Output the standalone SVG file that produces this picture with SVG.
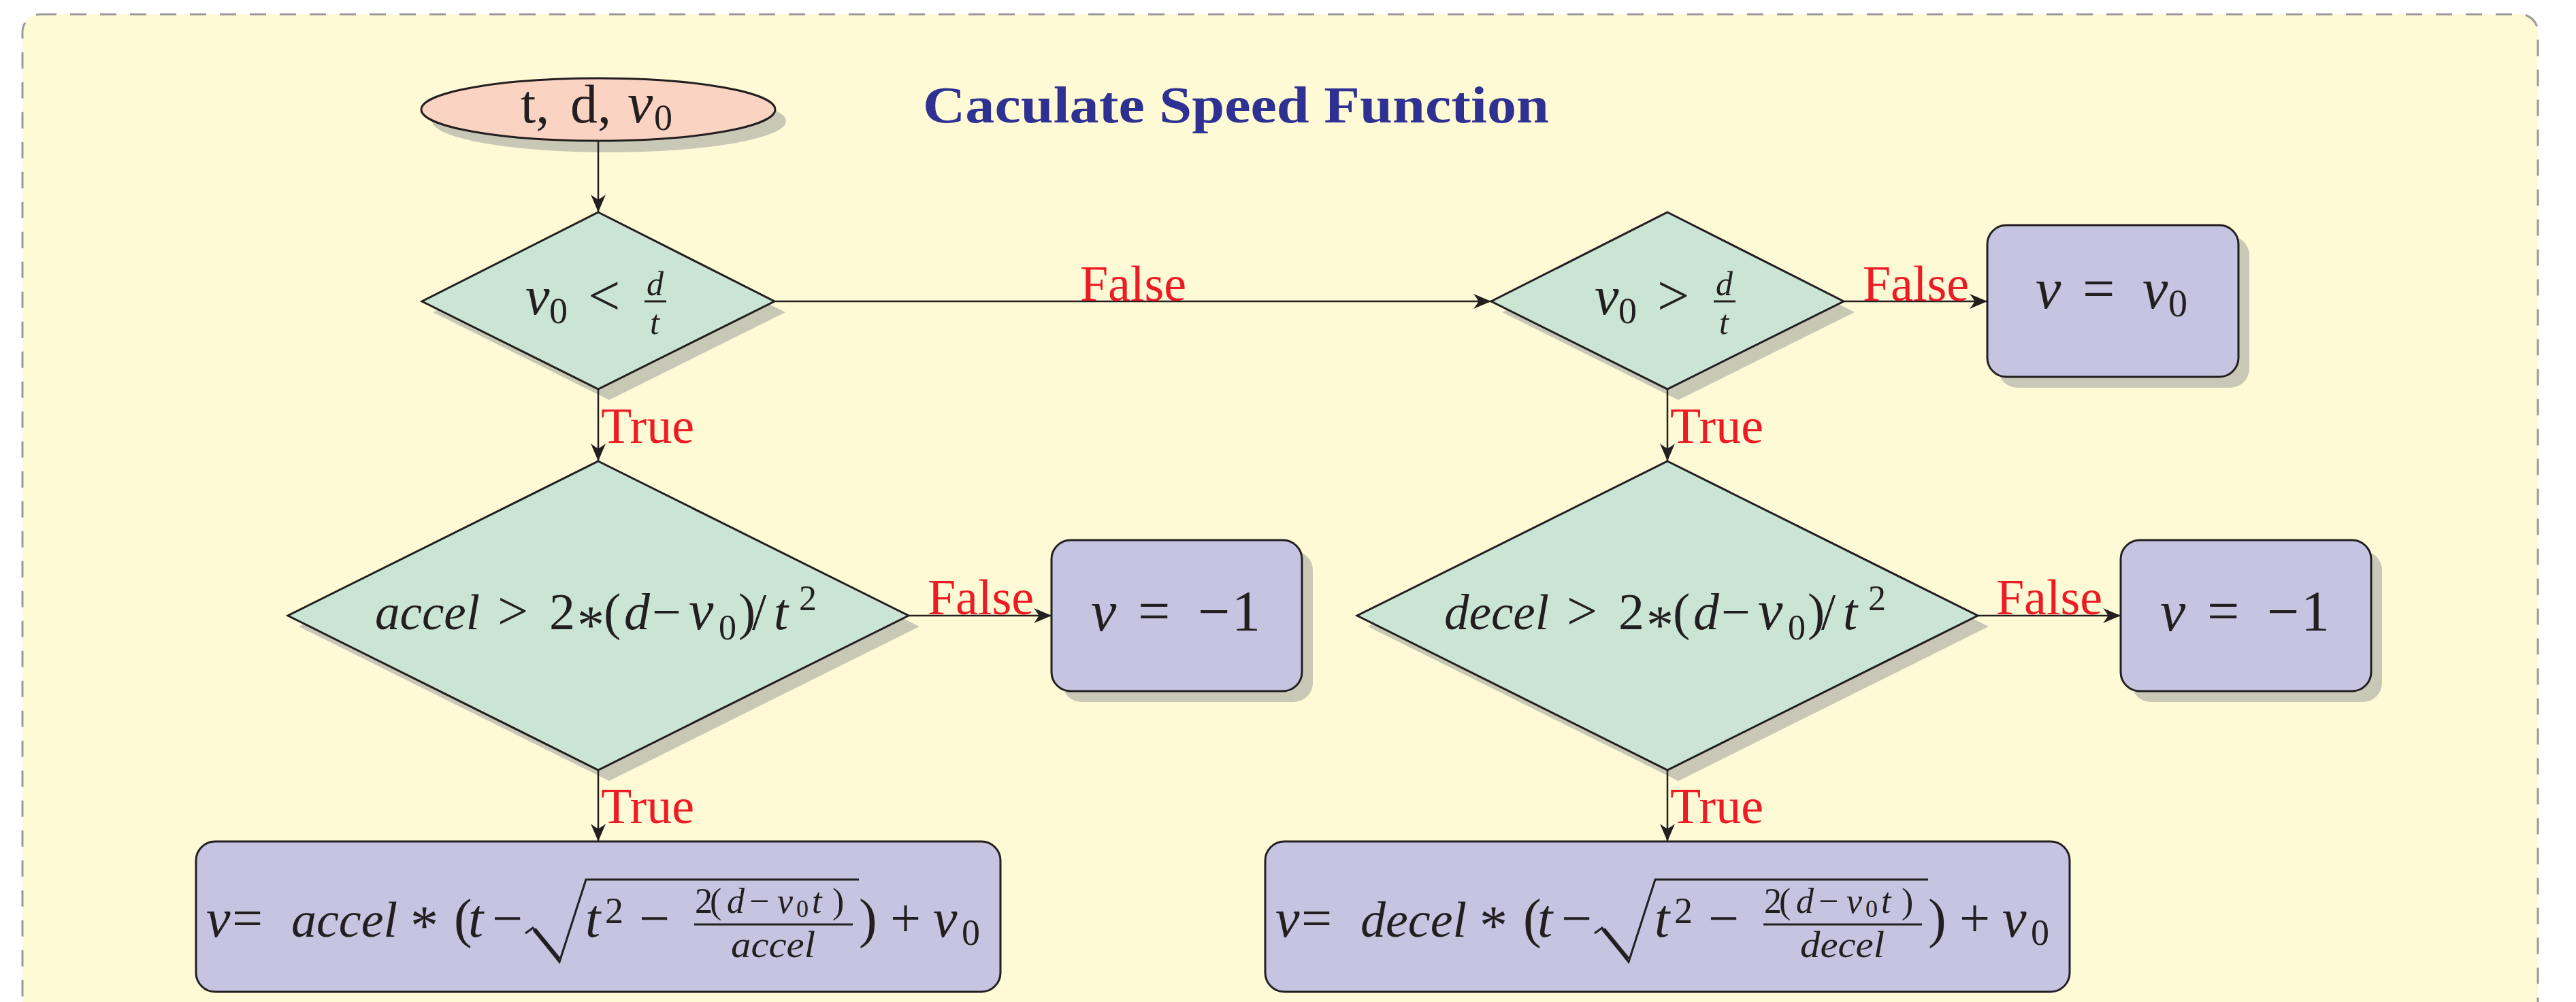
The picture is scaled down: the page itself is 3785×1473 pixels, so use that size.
<svg xmlns="http://www.w3.org/2000/svg" width="3785" height="1473" viewBox="0 0 3785 1473">
<defs>
<style>
.m{font-family:"Liberation Serif","Times New Roman",serif;fill:#231F20}
.i{font-style:italic}
.lbl{font-family:"Liberation Serif","Times New Roman",serif;font-size:74px;fill:#ED1C24}
.ln{stroke:#231F20;stroke-width:2.5;fill:none}
.nd{stroke:#231F20;stroke-width:3}
.sh{fill:#C9C8B7}
.dia{fill:#CBE5D5}
.box{fill:#C6C4E1}
.bar{stroke:#231F20;stroke-width:3}
</style>
<marker id="arr" viewBox="-28 -12 30 24" refX="0" refY="0" markerWidth="30" markerHeight="24" markerUnits="userSpaceOnUse" orient="auto">
<path d="M0,0 L-26,-11 Q-19,-2 -19,0 Q-19,2 -26,11 Z" fill="#231F20"/>
</marker>
</defs>
<rect x="0" y="0" width="3785" height="1473" fill="#FFFFFF"/>
<rect x="33" y="21" width="3696" height="1500" rx="26" fill="#FFFAD6" stroke="#9A9A9A" stroke-width="3" stroke-dasharray="24 20"/>

<g id="title">
<text x="1356" y="180" font-family="Liberation Serif, serif" font-weight="bold" font-size="76" fill="#2E3192" textLength="920" lengthAdjust="spacingAndGlyphs">Caculate Speed Function</text>
</g>

<g id="start">
<ellipse class="sh" cx="895" cy="178" rx="260" ry="46"/>
<ellipse class="nd" fill="#FBD3C3" cx="879" cy="161" rx="260" ry="46"/>
<text class="m" font-size="80" y="180"><tspan x="765">t,</tspan><tspan x="838">d,</tspan><tspan x="922" class="i" font-size="84">v</tspan><tspan x="961" y="191" font-size="54">0</tspan></text>
</g>

<g id="cond1">
<polygon class="sh" points="895,328 1154,459 895,588 636,459"/>
<polygon class="nd dia" points="879,312 1138,443 879,572 620,443"/>
<text class="m" font-size="80" y="462"><tspan x="772" class="i">v</tspan><tspan x="807" y="475" font-size="54">0</tspan><tspan x="864" y="463" font-size="84">&lt;</tspan></text>
<text class="m i" font-size="50"><tspan x="950" y="434">d</tspan><tspan x="955" y="491">t</tspan></text>
<line class="bar" x1="947" y1="443" x2="979" y2="443" stroke-width="2.5"/>
</g>

<g id="cond2">
<polygon class="sh" points="2466,328 2725,459 2466,588 2207,459"/>
<polygon class="nd dia" points="2450,312 2709,443 2450,572 2191,443"/>
<text class="m" font-size="80" y="462"><tspan x="2343" class="i">v</tspan><tspan x="2378" y="475" font-size="54">0</tspan><tspan x="2435" y="463" font-size="84">&gt;</tspan></text>
<text class="m i" font-size="50"><tspan x="2521" y="434">d</tspan><tspan x="2526" y="491">t</tspan></text>
<line class="bar" x1="2518" y1="443" x2="2550" y2="443" stroke-width="2.5"/>
</g>

<g id="res-v0">
<rect class="sh" x="2936" y="347" width="369" height="223" rx="28"/>
<rect class="nd box" x="2920" y="331" width="369" height="223" rx="28"/>
<text class="m" font-size="84" y="453"><tspan x="2991" class="i">v</tspan><tspan x="3060">=</tspan><tspan x="3148" class="i">v</tspan><tspan x="3186" y="465" font-size="56">0</tspan></text>
</g>

<g id="cond3">
<polygon class="sh" points="895,694 1351,921 895,1148 439,921"/>
<polygon class="nd dia" points="879,678 1335,905 879,1132 423,905"/>
<text class="m" font-size="76" y="925"><tspan x="551" class="i" font-size="73">accel</tspan><tspan x="731" font-size="80">&gt;</tspan><tspan x="807">2</tspan><tspan x="848" y="946" font-size="80">*</tspan><tspan x="887" y="925">(</tspan><tspan x="917" class="i">d</tspan><tspan x="958">−</tspan><tspan x="1012" class="i" font-size="82">v</tspan><tspan x="1056" y="940" font-size="52">0</tspan><tspan x="1085" y="925">)</tspan><tspan x="1105">/</tspan><tspan x="1137" class="i">t</tspan><tspan x="1174" y="897" font-size="52">2</tspan></text>
</g>

<g id="cond4">
<polygon class="sh" points="2466,694 2922,921 2466,1148 2010,921"/>
<polygon class="nd dia" points="2450,678 2906,905 2450,1132 1994,905"/>
<text class="m" font-size="76" y="925"><tspan x="2122" class="i" font-size="73">decel</tspan><tspan x="2302" font-size="80">&gt;</tspan><tspan x="2378">2</tspan><tspan x="2419" y="946" font-size="80">*</tspan><tspan x="2458" y="925">(</tspan><tspan x="2488" class="i">d</tspan><tspan x="2529">−</tspan><tspan x="2583" class="i" font-size="82">v</tspan><tspan x="2627" y="940" font-size="52">0</tspan><tspan x="2656" y="925">)</tspan><tspan x="2676">/</tspan><tspan x="2708" class="i">t</tspan><tspan x="2745" y="897" font-size="52">2</tspan></text>
</g>

<g id="res-neg1-a">
<rect class="sh" x="1561" y="810" width="368" height="222" rx="28"/>
<rect class="nd box" x="1545" y="794" width="368" height="222" rx="28"/>
<text class="m" font-size="84" y="927"><tspan x="1603" class="i">v</tspan><tspan x="1672">=</tspan><tspan x="1760">−</tspan><tspan x="1810">1</tspan></text>
</g>

<g id="res-neg1-d">
<rect class="sh" x="3132" y="810" width="368" height="222" rx="28"/>
<rect class="nd box" x="3116" y="794" width="368" height="222" rx="28"/>
<text class="m" font-size="84" y="927"><tspan x="3174" class="i">v</tspan><tspan x="3243">=</tspan><tspan x="3331">−</tspan><tspan x="3381">1</tspan></text>
</g>

<g id="res-accel">
<rect class="nd box" x="288" y="1237" width="1182" height="221" rx="28"/>
<text class="m" font-size="80" y="1377"><tspan x="303" class="i">v</tspan><tspan x="341">=</tspan><tspan x="428" class="i" font-size="74">accel</tspan><tspan x="603" y="1388" font-size="82">*</tspan><tspan x="667" y="1377">(</tspan><tspan x="688" class="i">t</tspan><tspan x="723">−</tspan><tspan x="860" class="i">t</tspan><tspan x="889" y="1357" font-size="54">2</tspan><tspan x="939" y="1377">−</tspan><tspan x="1262">)</tspan><tspan x="1308">+</tspan><tspan x="1371" class="i">v</tspan><tspan x="1413" y="1389" font-size="54">0</tspan></text>
<path d="M772,1372 L783,1364 L822,1414 L861,1293 L1262,1293" fill="none" stroke="#231F20" stroke-width="3"/>
<line x1="785" y1="1366" x2="821" y2="1410" stroke="#231F20" stroke-width="6"/>
<text class="m" font-size="52" y="1342"><tspan x="1021">2</tspan><tspan x="1043">(</tspan><tspan x="1068" class="i">d</tspan><tspan x="1101">−</tspan><tspan x="1142" class="i">v</tspan><tspan x="1170" y="1348" font-size="36">0</tspan><tspan x="1193" y="1342" class="i">t</tspan><tspan x="1223">)</tspan></text>
<line class="bar" x1="1020" y1="1359" x2="1253" y2="1359"/>
<text class="m i" font-size="54" x="1074" y="1407" textLength="124" lengthAdjust="spacingAndGlyphs">accel</text>
</g>

<g id="res-decel">
<rect class="nd box" x="1859" y="1237" width="1182" height="221" rx="28"/>
<text class="m" font-size="80" y="1377"><tspan x="1874" class="i">v</tspan><tspan x="1912">=</tspan><tspan x="1999" class="i" font-size="74">decel</tspan><tspan x="2174" y="1388" font-size="82">*</tspan><tspan x="2238" y="1377">(</tspan><tspan x="2259" class="i">t</tspan><tspan x="2294">−</tspan><tspan x="2431" class="i">t</tspan><tspan x="2460" y="1357" font-size="54">2</tspan><tspan x="2510" y="1377">−</tspan><tspan x="2833">)</tspan><tspan x="2879">+</tspan><tspan x="2942" class="i">v</tspan><tspan x="2984" y="1389" font-size="54">0</tspan></text>
<path d="M2343,1372 L2354,1364 L2393,1414 L2432,1293 L2833,1293" fill="none" stroke="#231F20" stroke-width="3"/>
<line x1="2356" y1="1366" x2="2392" y2="1410" stroke="#231F20" stroke-width="6"/>
<text class="m" font-size="52" y="1342"><tspan x="2592">2</tspan><tspan x="2614">(</tspan><tspan x="2639" class="i">d</tspan><tspan x="2672">−</tspan><tspan x="2713" class="i">v</tspan><tspan x="2741" y="1348" font-size="36">0</tspan><tspan x="2764" y="1342" class="i">t</tspan><tspan x="2794">)</tspan></text>
<line class="bar" x1="2591" y1="1359" x2="2824" y2="1359"/>
<text class="m i" font-size="54" x="2645" y="1407" textLength="124" lengthAdjust="spacingAndGlyphs">decel</text>
</g>

<g id="connectors">
<line class="ln" x1="879" y1="207" x2="879" y2="312" marker-end="url(#arr)"/>
<line class="ln" x1="1138" y1="443" x2="2191" y2="443" marker-end="url(#arr)"/>
<line class="ln" x1="2709" y1="443" x2="2920" y2="443" marker-end="url(#arr)"/>
<line class="ln" x1="879" y1="572" x2="879" y2="678" marker-end="url(#arr)"/>
<line class="ln" x1="2450" y1="572" x2="2450" y2="678" marker-end="url(#arr)"/>
<line class="ln" x1="1335" y1="905" x2="1545" y2="905" marker-end="url(#arr)"/>
<line class="ln" x1="2906" y1="905" x2="3116" y2="905" marker-end="url(#arr)"/>
<line class="ln" x1="879" y1="1132" x2="879" y2="1237" marker-end="url(#arr)"/>
<line class="ln" x1="2450" y1="1132" x2="2450" y2="1237" marker-end="url(#arr)"/>
<text class="lbl" text-anchor="middle" x="1665" y="442">False</text>
<text class="lbl" text-anchor="middle" x="2815" y="442">False</text>
<text class="lbl" text-anchor="middle" x="1441" y="903">False</text>
<text class="lbl" text-anchor="middle" x="3011" y="903">False</text>
<text class="lbl" x="883" y="651">True</text>
<text class="lbl" x="2454" y="651">True</text>
<text class="lbl" x="883" y="1210">True</text>
<text class="lbl" x="2454" y="1210">True</text>
</g>
</svg>
